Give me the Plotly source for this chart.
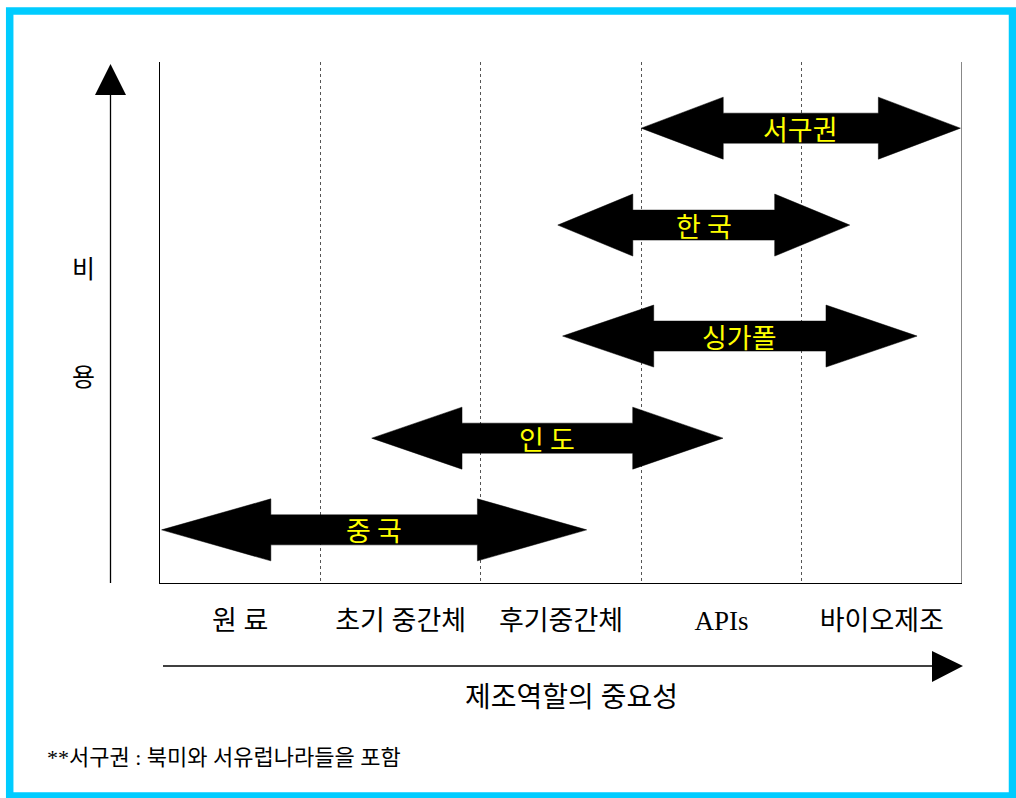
import plotly.graph_objects as go

# ---- data ----
stages = ["원 료", "초기 중간체", "후기중간체", "APIs", "바이오제조"]
regions = ["서구권", "한 국", "싱가폴", "인 도", "중 국"]
range_start = [3.00, 2.48, 2.51, 1.32, 0.01]
range_end = [4.99, 4.30, 4.72, 3.51, 2.66]
cost_level = [8.73, 6.87, 4.74, 2.78, 1.02]
y_axis_title = ["비", "용"]
x_axis_title = "제조역할의 중요성"
footnote = "**서구권 : 북미와 서유럽나라들을 포함"

# ---- layout geometry ----
W, H = 1016, 798
L, R, T, B = 160, 962, 62, 583
pw, ph = R - L, B - T
Y_MAX = 10.0
unit_px = ph / Y_MAX
HEAD_HALF = 31 / unit_px
SHAFT_HALF = 15 / unit_px
HEAD_FRAC = 0.257

KFONT = "Noto Sans CJK KR"
SERIF = "Liberation Serif, Noto Sans CJK KR"


def px(x):
    return (x - L) / pw


def py(y):
    return (B - y) / ph


fig = go.Figure()

for name, s, e, y in zip(regions, range_start, range_end, cost_level):
    hl = (e - s) * HEAD_FRAC
    xs = [s, s + hl, s + hl, e - hl, e - hl, e, e - hl, e - hl, s + hl, s + hl, s]
    ys = [y, y + HEAD_HALF, y + SHAFT_HALF, y + SHAFT_HALF, y + HEAD_HALF, y,
          y - HEAD_HALF, y - SHAFT_HALF, y - SHAFT_HALF, y - HEAD_HALF, y]
    fig.add_trace(go.Scatter(x=xs, y=ys, mode="lines", fill="toself",
                             fillcolor="black", line=dict(color="black", width=0.5),
                             hoverinfo="skip", showlegend=False))
    fig.add_annotation(x=(s + e) / 2, y=y, text=name, showarrow=False,
                       xanchor="center", yanchor="middle",
                       font=dict(family=KFONT, size=27, color="#FFFF00"))

shapes = []
# right boundary line
shapes.append(dict(type="line", xref="x", yref="paper", x0=len(stages), x1=len(stages),
                   y0=0, y1=1, line=dict(color="#888888", width=2)))
# vertical cost arrow
shapes.append(dict(type="line", xref="paper", yref="paper", x0=px(110.5), x1=px(110.5),
                   y0=py(583), y1=py(94), line=dict(color="black", width=1.3)))
shapes.append(dict(type="path", xref="paper", yref="paper",
                   path=f"M {px(110.5)} {py(64)} L {px(95)} {py(95)} L {px(126)} {py(95)} Z",
                   fillcolor="black", line=dict(color="black", width=0)))
# horizontal importance arrow
shapes.append(dict(type="line", xref="paper", yref="paper", x0=px(163), x1=px(933),
                   y0=py(666), y1=py(666), line=dict(color="black", width=1.3)))
shapes.append(dict(type="path", xref="paper", yref="paper",
                   path=f"M {px(963)} {py(666)} L {px(932)} {py(651)} L {px(932)} {py(682)} Z",
                   fillcolor="black", line=dict(color="black", width=0)))
# outer cyan frame
shapes.append(dict(type="rect", xref="paper", yref="paper", x0=px(9.7), x1=px(1012.5),
                   y0=py(11), y1=py(796), line=dict(color="#00CCFF", width=7.5),
                   fillcolor="rgba(0,0,0,0)", layer="above"))

annotations = [
    dict(xref="paper", yref="paper", x=px(83), y=py(269), text=y_axis_title[0],
         showarrow=False, xanchor="center", yanchor="middle",
         font=dict(family=SERIF, size=25, color="black")),
    dict(xref="paper", yref="paper", x=px(83), y=py(377), text=y_axis_title[1],
         showarrow=False, xanchor="center", yanchor="middle",
         font=dict(family=SERIF, size=25, color="black")),
    dict(xref="paper", yref="paper", x=px(571), y=py(697), text=x_axis_title,
         showarrow=False, xanchor="center", yanchor="middle",
         font=dict(family=SERIF, size=28, color="black")),
    dict(xref="paper", yref="paper", x=px(45), y=py(757), text=footnote,
         showarrow=False, xanchor="left", yanchor="middle",
         font=dict(family=SERIF, size=22, color="black")),
]
for a in annotations:
    fig.add_annotation(**a)

fig.update_layout(
    width=W, height=H,
    margin=dict(l=L, r=W - R, t=T, b=H - B, pad=0),
    paper_bgcolor="white", plot_bgcolor="white",
    shapes=shapes,
    xaxis=dict(range=[0, len(stages)], tickvals=[i + 0.5 for i in range(len(stages))],
               ticktext=stages, ticks="", showgrid=False, zeroline=False,
               showline=True, linecolor="black", linewidth=1.3,
               ticklabelstandoff=13,
               tickfont=dict(family=SERIF, size=27, color="black"),
               minor=dict(tickvals=list(range(1, len(stages))), showgrid=True,
                          griddash="dot", gridcolor="#555555", gridwidth=1, ticks=""),
               fixedrange=True),
    yaxis=dict(range=[0, Y_MAX], showticklabels=False, ticks="", showgrid=False,
               zeroline=False, showline=True, linecolor="black", linewidth=1.3,
               fixedrange=True),
    showlegend=False,
)

fig.write_html("out.html", config={"displayModeBar": False},
               post_script="document.body.style.margin='0px';")
